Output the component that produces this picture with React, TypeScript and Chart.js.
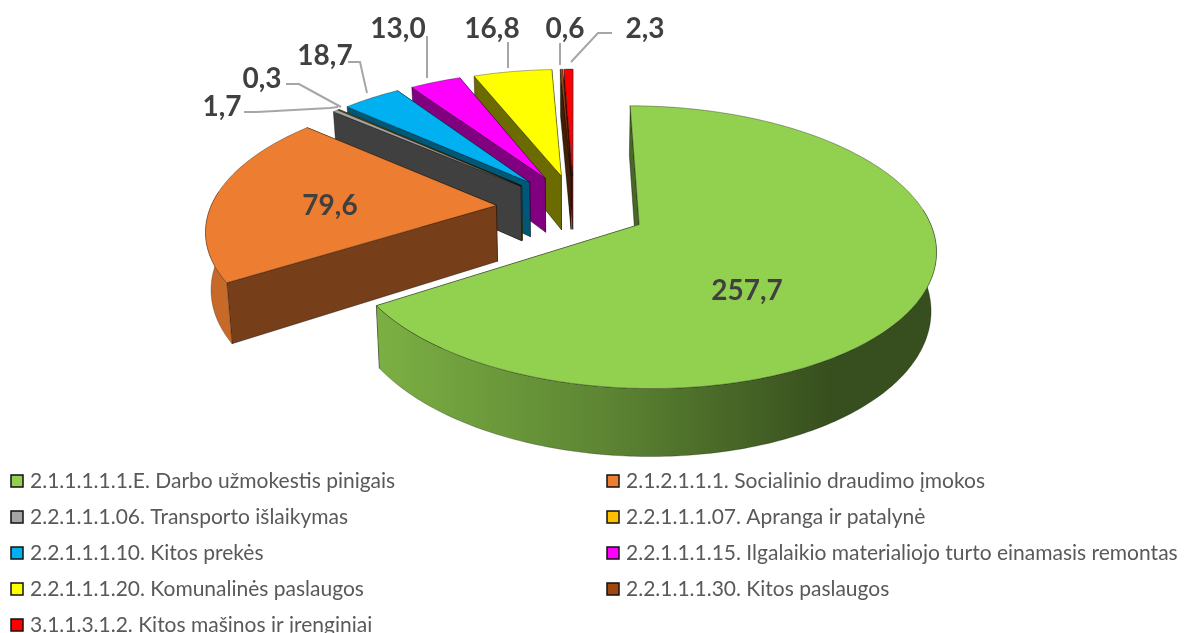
import React, { useEffect, useRef } from "react";
import { Chart, registerables } from "chart.js";

Chart.register(...registerables);

const categories = [
  "2.1.1.1.1.1.E. Darbo užmokestis pinigais",
  "2.1.2.1.1.1. Socialinio draudimo įmokos",
  "2.2.1.1.1.06. Transporto išlaikymas",
  "2.2.1.1.1.07. Apranga ir patalynė",
  "2.2.1.1.1.10. Kitos prekės",
  "2.2.1.1.1.15. Ilgalaikio materialiojo turto einamasis remontas",
  "2.2.1.1.1.20. Komunalinės paslaugos",
  "2.2.1.1.1.30. Kitos paslaugos",
  "3.1.1.3.1.2. Kitos mašinos ir įrenginiai",
];
const values = [257.7, 79.6, 1.7, 0.3, 18.7, 13.0, 16.8, 0.6, 2.3];
const valueLabels = ["257,7", "79,6", "1,7", "0,3", "18,7", "13,0", "16,8", "0,6", "2,3"];
const colors = ["#92D050", "#ED7D31", "#A5A5A5", "#FFC000", "#00B0F0", "#FF00FF", "#FFFF00", "#9E480E", "#FF0000"];
const wallShades = [0.5, 0.5, 0.39, 0.5, 0.5, 0.5, 0.42, 0.42, 0.45];
const explode = [71, 76, 71, 71, 71, 71, 71, 71, 71];

// view of the tilted pie (camera)
const VIEW = { ox: 574, oy: 208, a: 286, b: 132.5, k: 0.157, depth: 56, shrink: 0.985 };
// the view slightly bends the back of the pie: [angle clockwise from the top, bend], degrees
const BEND: [number, number][] = [[310, 0], [327.7, -3.7], [339.7, -4], [355, 0]];

const labelPos: [number, number][] = [
  [747, 291], [330, 206], [222, 107], [262, 79], [325, 56], [398, 29], [492, 29], [565, 29], [645, 29],
];
const leaders: ([number, number][] | null)[] = [
  null, null,
  [[244, 112], [257, 112], [330, 108], [338, 107]],
  [[286, 84], [299, 84], [341, 107]],
  [[348, 62], [360, 62], [367, 93]],
  [[427, 36], [427, 78]],
  [[508, 42], [508, 68]],
  [[560, 43], [560, 65]],
  [[612, 33], [598, 33], [571, 62]],
];
const legendRows = [481, 517, 553, 589, 625];

const shade = (hex: string, f: number) => {
  const n = parseInt(hex.slice(1), 16);
  const c = [(n >> 16) & 255, (n >> 8) & 255, n & 255].map((v) => Math.round(v * f));
  return `rgb(${c[0]},${c[1]},${c[2]})`;
};

const bend = (t: number) => {
  // t: canvas angle (radians, 0 = +x); returns the bent angle
  const d = (((t * 180) / Math.PI + 90) % 360 + 360) % 360;
  for (let i = 0; i < BEND.length - 1; i++) {
    const [a0, b0] = BEND[i];
    const [a1, b1] = BEND[i + 1];
    if (d >= a0 && d <= a1) return t + ((b0 + ((b1 - b0) * (d - a0)) / (a1 - a0)) * Math.PI) / 180;
  }
  return t;
};

const project = (u: number, v: number) => {
  const s = 1 / (1 + VIEW.k * v);
  const x = VIEW.ox + VIEW.a * u * s;
  const y = VIEW.oy - VIEW.b * v * s;
  return {
    x,
    y,
    bx: VIEW.ox + (x - VIEW.ox) * VIEW.shrink,
    by: y + VIEW.depth * s,
  };
};

type P = ReturnType<typeof project>;

const poly = (ctx: CanvasRenderingContext2D, pts: [number, number][]) => {
  ctx.beginPath();
  pts.forEach(([x, y], i) => (i ? ctx.lineTo(x, y) : ctx.moveTo(x, y)));
  ctx.closePath();
};

const pie3d = {
  id: "pie3d",
  beforeDatasetsDraw(chart: any) {
    const ctx: CanvasRenderingContext2D = chart.ctx;
    const arcs = chart.getDatasetMeta(0).data;
    ctx.save();
    ctx.lineJoin = "round";
    for (let i = arcs.length - 1; i >= 0; i--) {
      const arc = arcs[i];
      const { startAngle, endAngle, outerRadius: R } = arc;
      const mid = (startAngle + endAngle) / 2;
      const e = arc.options.offset / R;
      const cu = Math.cos(mid) * e;
      const cv = -Math.sin(mid) * e;
      const apex = project(cu, cv);
      const steps = Math.max(2, Math.ceil(((endAngle - startAngle) * 180) / Math.PI));
      const rim: P[] = [];
      const frontRim: P[] = [];
      for (let j = 0; j <= steps; j++) {
        const t = bend(startAngle + ((endAngle - startAngle) * j) / steps);
        const p = project(cu + Math.cos(t), cv - Math.sin(t));
        rim.push(p);
        if (-Math.sin(t) < 0.12) frontRim.push(p);
      }
      const color = colors[i];
      const wall = shade(color, wallShades[i]);
      ctx.lineWidth = 0.7;
      ctx.strokeStyle = "rgba(0,0,0,0.55)";

      // radial walls
      [rim[rim.length - 1], rim[0]].forEach((p) => {
        poly(ctx, [[apex.x, apex.y], [p.x, p.y], [p.bx, p.by], [apex.bx, apex.by]]);
        ctx.fillStyle = wall;
        ctx.fill();
        ctx.stroke();
      });

      // outer rim, only the part that faces the viewer, lit from the left
      if (frontRim.length > 1) {
        const g = ctx.createLinearGradient(380, 0, 830, 0);
        g.addColorStop(0, shade(color, 0.84));
        g.addColorStop(0.5, shade(color, 0.64));
        g.addColorStop(1, shade(color, 0.38));
        poly(ctx, [
          ...frontRim.map((p) => [p.x, p.y] as [number, number]),
          ...frontRim.slice().reverse().map((p) => [p.bx, p.by] as [number, number]),
        ]);
        ctx.fillStyle = g;
        ctx.fill();
        ctx.strokeStyle = "rgba(0,0,0,0.35)";
        ctx.stroke();
      }

      // top face
      poly(ctx, [[apex.x, apex.y], ...rim.map((p) => [p.x, p.y] as [number, number])]);
      ctx.fillStyle = color;
      ctx.fill();
      ctx.strokeStyle = "rgba(0,0,0,0.45)";
      ctx.stroke();
    }
    ctx.restore();
    return false;
  },
  afterDraw(chart: any) {
    const ctx: CanvasRenderingContext2D = chart.ctx;
    ctx.save();
    // leader lines
    ctx.strokeStyle = "#A6A6A6";
    ctx.lineWidth = 2;
    leaders.forEach((pts) => {
      if (!pts) return;
      ctx.beginPath();
      pts.forEach(([x, y], i) => (i ? ctx.lineTo(x, y) : ctx.moveTo(x, y)));
      ctx.stroke();
    });
    // value labels
    ctx.fillStyle = "#404040";
    ctx.font = "bold 28px Lato";
    ctx.textAlign = "center";
    ctx.textBaseline = "middle";
    valueLabels.forEach((t, i) => ctx.fillText(t, labelPos[i][0], labelPos[i][1]));
    // legend
    ctx.textAlign = "left";
    ctx.font = "21px Lato";
    const labels: string[] = chart.data.labels;
    labels.forEach((t, i) => {
      const col = i % 2;
      const y = legendRows[Math.floor(i / 2)];
      const bx = col ? 607 : 11;
      ctx.fillStyle = colors[i];
      ctx.fillRect(bx, y - 6, 12, 12);
      ctx.strokeStyle = "#111";
      ctx.lineWidth = 1.5;
      ctx.strokeRect(bx, y - 6, 12, 12);
      ctx.fillStyle = "#595959";
      ctx.fillText(t, col ? 626 : 30, y);
    });
    ctx.restore();
  },
};

export default function App() {
  const ref = useRef<HTMLCanvasElement | null>(null);
  useEffect(() => {
    if (!ref.current) return;
    const chart = new Chart(ref.current, {
      type: "pie",
      data: {
        labels: categories,
        datasets: [{ data: values, backgroundColor: colors, borderWidth: 0, offset: explode }],
      },
      options: {
        animation: false,
        responsive: false,
        rotation: 0,
        plugins: { legend: { display: false }, tooltip: { enabled: false } },
      },
      plugins: [pie3d],
    } as any);
    return () => chart.destroy();
  }, []);
  return (
    <div style={{ position: "absolute", left: 0, top: 0, width: 1187, height: 633, background: "#fff", overflow: "hidden" }}>
      <canvas ref={ref} width={1187} height={633} style={{ display: "block" }} />
    </div>
  );
}
